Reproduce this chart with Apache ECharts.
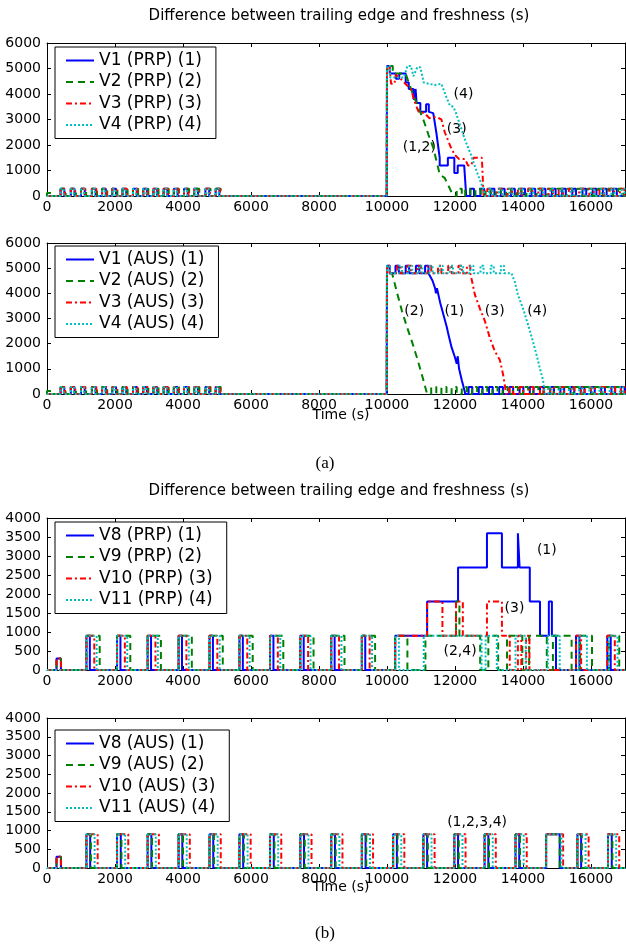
<!DOCTYPE html>
<html>
<head>
<meta charset="utf-8">
<script src="https://cdn.jsdelivr.net/npm/echarts@6/dist/echarts.min.js"></script>
<style>
  html, body { margin: 0; padding: 0; background: #fff; }
  #chart { width: 626px; height: 945px; }
</style>
</head>
<body>
<div id="chart"></div>
<script>
// ---- data (time in s, value in s) ----

// (a) small pulses before the event, shared start times
const earlyA = [400, 700, 1000, 1320, 1620, 1920, 2220, 2530, 2830, 3130, 3430, 3730, 4030, 4330, 4660, 4960];

// (a) PRP: drop after the jump at 10000
const v1PrpDrop = [[9990, 0], [10000, 5100], [10080, 5100], [10080, 4800], [10260, 4800], [10260, 4600], [10360, 4600], [10360, 4800], [10550, 4800], [10550, 4450], [10640, 4450], [10640, 4200], [10780, 4200], [10780, 3800], [10840, 3800], [10840, 4200], [10870, 4200], [10870, 3650], [10980, 3650], [10980, 3300], [11150, 3300], [11150, 3600], [11230, 3600], [11230, 3300], [11360, 3250], [11450, 2500], [11550, 1500], [11550, 1200], [11790, 1200], [11790, 1500], [11980, 1500], [11980, 900], [12080, 900], [12080, 1200], [12270, 1200], [12330, 0]];
const v2PrpDrop = [[9990, 0], [10000, 5100], [10170, 5100], [10170, 4800], [10550, 4800], [10650, 4400], [10790, 3900], [10930, 3450], [11080, 2950], [11220, 2400], [11360, 1900], [11460, 1350], [11550, 850], [11700, 700], [11790, 450], [11930, 60], [11950, 0]];
const v3PrpDrop = [[9990, 0], [10000, 5100], [10070, 5100], [10120, 4400], [10220, 4400], [10260, 4750], [10400, 4600], [10540, 4400], [10700, 4200], [10840, 3600], [10930, 3300], [11100, 3250], [11250, 3050], [11450, 3100], [11600, 3000], [11700, 2500], [11880, 1900], [12000, 1600], [12120, 1450], [12300, 1450], [12380, 1200], [12480, 1200], [12550, 1500], [12790, 1500], [12840, 0]];
const v4PrpDrop = [[9990, 0], [10000, 5100], [10090, 5100], [10090, 4650], [10500, 4650], [10600, 5100], [10700, 5100], [10780, 4700], [10890, 5050], [10980, 5050], [11080, 4450], [11400, 4350], [11600, 4400], [11740, 3900], [11850, 3550], [11950, 3500], [12030, 3250], [12170, 2700], [12310, 2150], [12460, 1650], [12600, 1100], [12740, 600], [12840, 250], [12880, 0]];

const v1PrpLate = [12450, 12750, 13050, 13350, 13650, 13950, 14250, 14550, 14850, 15150, 15450, 15750, 16050, 16350, 16650];
const v2PrpLate = [12050, 12300, 12600, 12900, 13200, 13500, 13800, 14100, 14400, 14700, 15000, 15300, 15600, 15900, 16200, 16500, 16800];
const v3PrpLate = [12950, 13250, 13550, 13850, 14150, 14450, 14750, 15050, 15350, 15650, 15950, 16250, 16550, 16850];
const v4PrpLate = [13000, 13300, 13600, 13900, 14200, 14500, 14800, 15100, 15400, 15700, 16000, 16300, 16600, 16900];

// (a) AUS: jump, plateau with small bumps to 5100, then drop
const ausRise = [[9990, 0], [10000, 5100], [10080, 5100], [10080, 4800]];
const v2AusRise = [[9990, 0], [10000, 5100], [10050, 5100], [10050, 4800]];
const v1AusTop = [10250, 10550, 10850, 11120];
const v3AusTop = [10300, 10600, 10900, 11200, 11500, 11800, 12100, 12350];
const v4AusTop = [10350, 10650, 10950, 11250, 11550, 11850, 12150, 12450, 12750, 13050, 13350];
const v1AusFall = [[11270, 4800], [11340, 4500], [11415, 4200], [11440, 4000], [11470, 4200], [11560, 3650], [11660, 3150], [11760, 2650], [11780, 2700], [11800, 2400], [11900, 1850], [12000, 1450], [12050, 1200], [12080, 1500], [12120, 1000], [12200, 550], [12290, 80], [12300, 0]];
const v2AusFall = [[10150, 4800], [10290, 4050], [10440, 3300], [10590, 2650], [10730, 2100], [10880, 1450], [11020, 800], [11120, 300], [11180, 0]];
const v3AusFall = [[12440, 4800], [12490, 4550], [12585, 3950], [12730, 3400], [12880, 2900], [13020, 2250], [13170, 1700], [13320, 1350], [13410, 800], [13460, 400], [13500, 0]];
const v4AusFall = [[13660, 4800], [13760, 4450], [13850, 3950], [14000, 3400], [14150, 2750], [14290, 2100], [14390, 1600], [14490, 1050], [14590, 550], [14630, 150], [14660, 0]];

const v1AusLate = [12400, 12700, 13000, 13300, 13600, 13900, 14200, 14500, 14800, 15100, 15400, 15700, 16000, 16300, 16600, 16880];
const v2AusLate = [11300, 11600, 11900, 12200, 12500, 12800, 13100, 13400, 13700, 14000, 14300, 14600, 14900, 15200, 15500, 15800, 16100, 16400, 16700];
const v3AusLate = [13600, 13900, 14200, 14500, 14800, 15100, 15400, 15700, 16000, 16300, 16600, 16880];
const v4AusLate = [14750, 15050, 15350, 15650, 15950, 16250, 16550, 16850];

// (b) pulses to 900 every ~890 s
const groupB = [1160, 2060, 2960, 3870, 4780, 5660, 6560, 7450, 8360, 9260];
const groupB4Late = [10180, 11070, 11980, 12870, 13780, 15600, 16500];

// (b) PRP after 10000: [time, new level]
const v8PrpLate = [[10240, 900], [11180, 1800], [12090, 2700], [12940, 3600], [13380, 2700], [13850, 3600], [13900, 2700], [14200, 1800], [14500, 900], [14760, 1800], [14850, 900], [14970, 0]];
const v8PrpTail = [15560, 16480];
const v9PrpLate = [[10240, 900], [10600, 0], [11130, 900], [12030, 1800], [12130, 900], [12740, 0], [12980, 900], [13270, 0], [13530, 900], [13980, 0], [14180, 900], [14700, 0], [14880, 900], [15430, 0], [15680, 900], [16030, 0], [16530, 900], [16830, 0]];
const v10PrpLate = [[10240, 900], [11180, 1800], [11630, 900], [12030, 1800], [12230, 900], [12940, 1800], [13380, 900], [13610, 0], [13850, 900], [13950, 0], [14090, 900], [14190, 0], [15560, 900], [15710, 0], [16480, 900], [16700, 0]];
const v11PrpLate = [[10240, 900], [10350, 0], [11080, 900], [12780, 0], [12900, 900], [13230, 0], [13780, 900], [14080, 0], [14730, 900], [15080, 0], [15640, 900], [15880, 0], [16530, 900], [16780, 0]];

// annotations [time, value, text]
const annA1 = [[12250, 4000, '(4)'], [12050, 2620, '(3)'], [10950, 1900, '(1,2)']];
const annA2 = [[10800, 3300, '(2)'], [11980, 3300, '(1)'], [13170, 3300, '(3)'], [14420, 3300, '(4)']];
const annB1 = [[14700, 3150, '(1)'], [13750, 1620, '(3)'], [12150, 500, '(2,4)']];
const annB2 = [[12650, 1220, '(1,2,3,4)']];

const xTicks = [0, 2000, 4000, 6000, 8000, 10000, 12000, 14000, 16000];
const xMax = 17000;

// ---- helpers ----
function seg(starts, width, h) {
  return starts.map(s => [s, s + width, h]);
}
// segments [start, end, height] -> polyline with vertical edges
function toLine(segs, lo) {
  const pts = [];
  segs.slice().sort((a, b) => a[0] - b[0]).forEach(([s, e, h]) => {
    pts.push([s, lo], [s, h], [e, h], [e, lo]);
  });
  return pts;
}
// [t, level] changes -> step points
function steps(changes, from) {
  const pts = [];
  let prev = from;
  changes.forEach(([t, v]) => { pts.push([t, prev], [t, v]); prev = v; });
  return pts;
}

const FONT = 'DejaVu Sans';
const looks = [
  { color: '#0000ff', type: 'solid' },
  { color: '#008000', type: [7, 5] },
  { color: '#ff0000', type: [6, 3, 2, 3] },
  { color: '#00bfbf', type: [2, 2] }
];

const grids = [
  { top: 43, height: 153, yMax: 6000, yStep: 1000 },
  { top: 243, height: 151, yMax: 6000, yStep: 1000 },
  { top: 518, height: 152, yMax: 4000, yStep: 500 },
  { top: 718, height: 150, yMax: 4000, yStep: 500 }
];

const names = [
  ['V1 (PRP) (1)', 'V2 (PRP) (2)', 'V3 (PRP) (3)', 'V4 (PRP) (4)'],
  ['V1 (AUS) (1)', 'V2 (AUS) (2)', 'V3 (AUS) (3)', 'V4 (AUS) (4)'],
  ['V8 (PRP) (1)', 'V9 (PRP) (2)', 'V10 (PRP) (3)', 'V11 (PRP) (4)'],
  ['V8 (AUS) (1)', 'V9 (AUS) (2)', 'V10 (AUS) (3)', 'V11 (AUS) (4)']
];

const start = [[0, 0]];
const end = [[xMax, 0]];
const seriesData = [
  [
    start.concat(toLine(seg(earlyA, 110, 280), 0), v1PrpDrop, toLine(seg(v1PrpLate, 110, 280), 0), end),
    start.concat(toLine([[0, 160, 120]].concat(seg(earlyA, 150, 280)), 0), v2PrpDrop, toLine(seg(v2PrpLate, 150, 280), 0), end),
    start.concat(toLine(seg(earlyA, 130, 280), 0), v3PrpDrop, toLine(seg(v3PrpLate, 130, 280), 0), end),
    start.concat(toLine(seg(earlyA, 90, 280), 0), v4PrpDrop, toLine(seg(v4PrpLate, 90, 280), 0), end)
  ],
  [
    start.concat(toLine(seg(earlyA, 110, 280), 0), ausRise, toLine(seg(v1AusTop, 100, 5100), 4800), v1AusFall, toLine(seg(v1AusLate, 110, 280), 0), end),
    start.concat(toLine([[0, 160, 120]].concat(seg(earlyA, 150, 280)), 0), v2AusRise, v2AusFall, toLine(seg(v2AusLate, 150, 280), 0), end),
    start.concat(toLine(seg(earlyA, 130, 280), 0), ausRise, toLine(seg(v3AusTop, 100, 5100), 4800), v3AusFall, toLine(seg(v3AusLate, 110, 280), 0), end),
    start.concat(toLine(seg(earlyA, 90, 280), 0), ausRise, toLine(seg(v4AusTop, 90, 5100), 4800), v4AusFall, toLine(seg(v4AusLate, 90, 280), 0), end)
  ],
  [
    start.concat(toLine([[280, 410, 300]].concat(seg(groupB, 100, 900)), 0), steps(v8PrpLate, 0), toLine(seg(v8PrpTail, 100, 900), 0), end),
    start.concat(toLine([[280, 410, 300]].concat(seg(groupB, 390, 900)), 0), steps(v9PrpLate, 0), end),
    start.concat(toLine([[280, 410, 300]].concat(seg(groupB, 230, 900)), 0), steps(v10PrpLate, 0), end),
    start.concat(toLine(seg(groupB, 300, 900), 0), steps(v11PrpLate, 0), end)
  ],
  [
    start.concat(toLine([[280, 410, 300]].concat(seg(groupB, 110, 900), seg(groupB4Late, 110, 900), [[14680, 15080, 900]]), 0), end),
    start.concat(toLine([[280, 410, 300]].concat(seg(groupB, 130, 900), seg(groupB4Late, 130, 900), [[14680, 15080, 900]]), 0), end),
    start.concat(toLine([[280, 410, 300]].concat(seg(groupB, 330, 900), seg(groupB4Late, 330, 900), [[14680, 15180, 900]]), 0), end),
    start.concat(toLine(seg(groupB, 240, 900).concat(seg(groupB4Late, 240, 900), [[14680, 15130, 900]]), 0), end)
  ]
];
const annotations = [annA1, annA2, annB1, annB2];

// ---- option ----
const xAxis = [];
const yAxis = [];
const series = [];
const legend = [];
const legendTops = [47, 246, 522, 730];

grids.forEach((g, i) => {
  const tick = { inside: true, length: 4, lineStyle: { color: '#000', width: 1 } };
  const line = { show: true, onZero: false, lineStyle: { color: '#000', width: 1 } };
  xAxis.push({
    gridIndex: i, type: 'value', min: 0, max: xMax, interval: 2000,
    axisLine: line, axisTick: tick, splitLine: { show: false },
    axisLabel: {
      color: '#000', fontSize: 14, fontFamily: FONT, margin: 4, showMaxLabel: false,
      formatter: v => (xTicks.indexOf(v) >= 0 ? String(v) : '')
    }
  });
  xAxis.push({
    gridIndex: i, type: 'value', position: 'top', min: 0, max: xMax, interval: 2000,
    axisLine: line, axisTick: tick, axisLabel: { show: false }, splitLine: { show: false }
  });
  yAxis.push({
    gridIndex: i, type: 'value', min: 0, max: g.yMax, interval: g.yStep,
    axisLine: line, axisTick: tick, splitLine: { show: false },
    axisLabel: { color: '#000', fontSize: 14, fontFamily: FONT, margin: 6, formatter: v => String(v) }
  });
  yAxis.push({
    gridIndex: i, type: 'value', position: 'right', min: 0, max: g.yMax, interval: g.yStep,
    axisLine: line, axisTick: tick, axisLabel: { show: false }, splitLine: { show: false }
  });

  seriesData[i].forEach((d, k) => {
    series.push({
      name: names[i][k], type: 'line', xAxisIndex: i * 2, yAxisIndex: i * 2,
      data: d, symbol: 'none', showSymbol: false, animation: false,
      lineStyle: { color: looks[k].color, width: 2, type: looks[k].type },
      itemStyle: { color: looks[k].color }
    });
  });

  series.push({
    type: 'scatter', xAxisIndex: i * 2, yAxisIndex: i * 2, symbolSize: 1,
    itemStyle: { color: 'rgba(0,0,0,0)', opacity: 1 }, animation: false, silent: true,
    data: annotations[i].map(a => ({ value: [a[0], a[1]], name: a[2] })),
    label: {
      show: true, position: 'inside', formatter: p => p.name, opacity: 1,
      color: '#000', fontSize: 14, fontFamily: FONT, textBorderWidth: 0
    }
  });

  legend.push({
    data: names[i], orient: 'vertical', left: 55, top: legendTops[i],
    itemWidth: 28, itemHeight: 17, itemGap: 4.5, padding: [5, 14, 5, 10],
    borderColor: '#000', borderWidth: 1, borderRadius: 0, backgroundColor: '#fff',
    itemStyle: { opacity: 0, borderWidth: 0 },
    textStyle: { color: '#000', fontSize: 17, fontFamily: FONT },
    selectedMode: false
  });
});

const titleStyle = { fontSize: 15, fontWeight: 'normal', color: '#000', fontFamily: FONT };
const timeStyle = { fontSize: 14, fontWeight: 'normal', color: '#000', fontFamily: FONT };
const option = {
  backgroundColor: '#fff',
  animation: false,
  grid: grids.map(g => ({ left: 47, right: 1, top: g.top, height: g.height, show: false })),
  xAxis, yAxis, series, legend,
  title: [
    { text: 'Difference between trailing edge and freshness (s)', left: 334, top: 4, textAlign: 'center', textStyle: titleStyle },
    { text: 'Difference between trailing edge and freshness (s)', left: 334, top: 479, textAlign: 'center', textStyle: titleStyle },
    { text: 'Time (s)', left: 336, top: 403, textAlign: 'center', textStyle: timeStyle },
    { text: 'Time (s)', left: 336, top: 875, textAlign: 'center', textStyle: timeStyle },
    { text: '(a)', left: 320, top: 450, textAlign: 'center',
      textStyle: { fontSize: 17, fontWeight: 'normal', color: '#000', fontFamily: 'Liberation Serif' } },
    { text: '(b)', left: 320, top: 920, textAlign: 'center',
      textStyle: { fontSize: 17, fontWeight: 'normal', color: '#000', fontFamily: 'Liberation Serif' } }
  ]
};

const chart = echarts.init(document.getElementById('chart'), null, { renderer: 'canvas' });
chart.setOption(option);
</script>
</body>
</html>
